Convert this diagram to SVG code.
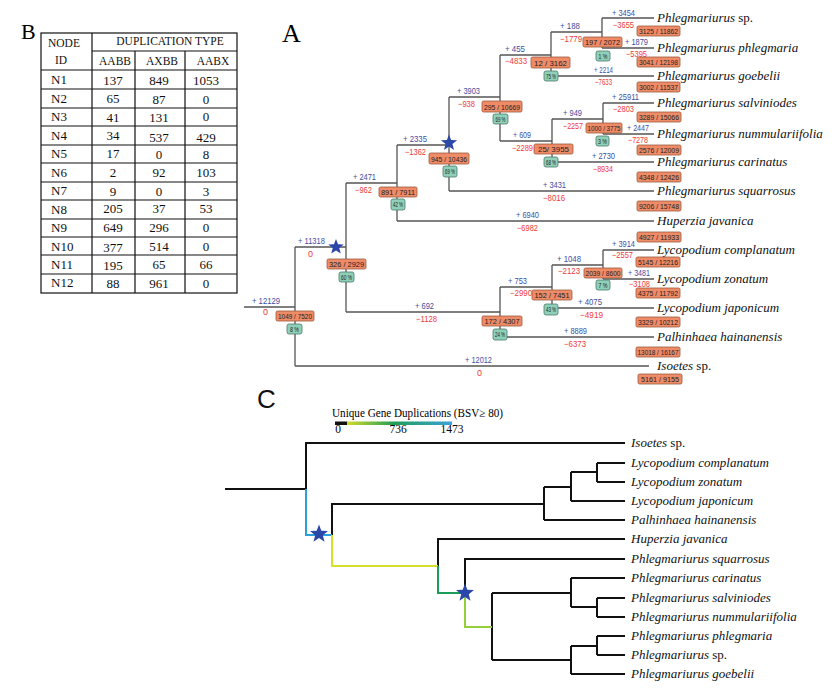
<svg xmlns="http://www.w3.org/2000/svg" xmlns:xlink="http://www.w3.org/1999/xlink" width="836" height="691" viewBox="0 0 836 691">
<style>
.lbl{font-family:"Liberation Serif","Times New Roman",serif;fill:#000}
.tb{font-family:"Liberation Serif","Times New Roman",serif;font-size:13px;fill:#111}
.th{font-family:"Liberation Serif","Times New Roman",serif;font-size:11.5px;fill:#111}
.b{font-family:"Liberation Sans",Arial,sans-serif;font-size:9px;fill:#3f4ea3}
.r{font-family:"Liberation Sans",Arial,sans-serif;font-size:9px;fill:#f03a3a}
.bx{fill:#f08b68;stroke:#9a5a3c;stroke-width:0.8}
.gx{fill:#8fd0b9;stroke:#4d7a68;stroke-width:0.8}
.bt{font-family:"Liberation Sans",Arial,sans-serif;font-size:8px;fill:#222;text-anchor:middle}
.gt{font-family:"Liberation Sans",Arial,sans-serif;font-size:7.5px;fill:#222;text-anchor:middle}
.sp{font-family:"Liberation Serif","Times New Roman",serif;font-size:13px;font-style:italic;fill:#111}
.up{font-style:normal}
.ta{stroke:#555;stroke-width:1.3;fill:none}
.tc{stroke:#111;stroke-width:2;fill:none}
.grid{stroke:#111;stroke-width:1.2;fill:none}
.star{fill:#2b47a8}
</style>
<defs>
<polygon id="star" points="0,-9 2.23,-3.07 8.56,-2.78 3.61,1.17 5.29,7.28 0,3.8 -5.29,7.28 -3.61,1.17 -8.56,-2.78 -2.23,-3.07"/>
<linearGradient id="cb" x1="0" x2="1" y1="0" y2="0">
<stop offset="0" stop-color="#d3dc2a"/>
<stop offset="0.45" stop-color="#1f9e55"/>
<stop offset="1" stop-color="#3aa3dc"/>
</linearGradient>
</defs>
<rect width="836" height="691" fill="#fff"/>

<!-- Panel labels -->
<text class="lbl" x="282" y="42" font-size="26">A</text>
<text class="lbl" x="21" y="39" font-size="22">B</text>
<text x="257" y="408" font-family="Liberation Sans,Arial,sans-serif" font-size="26" fill="#111">C</text>

<!-- Table B -->
<g id="table">
<rect class="grid" x="41" y="33" width="196" height="260" stroke-width="1.5"/>
<path class="grid" d="M92,33V293 M135,51V293 M185,51V293 M92,51H237 M41,70H237 M41,89H237 M41,108H237 M41,126H237 M41,145H237 M41,163H237 M41,182H237 M41,200H237 M41,219H237 M41,237H237 M41,255H237 M41,274H237"/>
<text class="th" x="48" y="47">NODE</text>
<text class="th" x="55" y="64">ID</text>
<text class="th" x="170" y="45" text-anchor="middle">DUPLICATION  TYPE</text>
<text class="th" x="115" y="65" text-anchor="middle">AABB</text>
<text class="th" x="162" y="65" text-anchor="middle">AXBB</text>
<text class="th" x="213" y="65" text-anchor="middle">AABX</text>
<g class="tb">
<text x="51" y="84">N1</text><text x="113" y="85" text-anchor="middle">137</text><text x="159" y="85" text-anchor="middle">849</text><text x="206" y="85" text-anchor="middle">1053</text>
<text x="51" y="103">N2</text><text x="113" y="103" text-anchor="middle">65</text><text x="159" y="104" text-anchor="middle">87</text><text x="206" y="104" text-anchor="middle">0</text>
<text x="51" y="121">N3</text><text x="113" y="122" text-anchor="middle">41</text><text x="159" y="122" text-anchor="middle">131</text><text x="206" y="121" text-anchor="middle">0</text>
<text x="51" y="140">N4</text><text x="113" y="140" text-anchor="middle">34</text><text x="159" y="142" text-anchor="middle">537</text><text x="206" y="142" text-anchor="middle">429</text>
<text x="51" y="158">N5</text><text x="113" y="158" text-anchor="middle">17</text><text x="159" y="159" text-anchor="middle">0</text><text x="206" y="159" text-anchor="middle">8</text>
<text x="51" y="177">N6</text><text x="113" y="177" text-anchor="middle">2</text><text x="159" y="177" text-anchor="middle">92</text><text x="206" y="177" text-anchor="middle">103</text>
<text x="51" y="195">N7</text><text x="113" y="196" text-anchor="middle">9</text><text x="159" y="196" text-anchor="middle">0</text><text x="206" y="196" text-anchor="middle">3</text>
<text x="51" y="214">N8</text><text x="113" y="213" text-anchor="middle">205</text><text x="159" y="213" text-anchor="middle">37</text><text x="206" y="213" text-anchor="middle">53</text>
<text x="51" y="232">N9</text><text x="113" y="232" text-anchor="middle">649</text><text x="159" y="232" text-anchor="middle">296</text><text x="206" y="232" text-anchor="middle">0</text>
<text x="51" y="251">N10</text><text x="113" y="252" text-anchor="middle">377</text><text x="159" y="251" text-anchor="middle">514</text><text x="206" y="251" text-anchor="middle">0</text>
<text x="51" y="269">N11</text><text x="113" y="270" text-anchor="middle">195</text><text x="159" y="269" text-anchor="middle">65</text><text x="206" y="269" text-anchor="middle">66</text>
<text x="51" y="287">N12</text><text x="113" y="288" text-anchor="middle">88</text><text x="159" y="288" text-anchor="middle">961</text><text x="206" y="288" text-anchor="middle">0</text>
</g>
</g>

<!-- Panel A connectors -->
<g id="connectors-A">
<path class="ta" d="M244,307H295 M295,247V366 M295,247H346 M295,366H649 M346,183V312 M346,183H397 M346,312H500 M397,145V221 M397,145H449 M397,221H654 M449,97V191 M449,97H500 M449,191H654 M500,55V141 M500,55H551 M500,141H552 M551,32V76 M551,32H602 M551,76H654 M602,18V48 M602,18H654 M602,48H654 M552,119V162 M552,119H603 M552,162H654 M603,103V134 M603,103H654 M603,134H654 M500,287V337 M500,287H552 M500,337H654 M552,265V308 M552,265H603 M552,308H654 M603,250V279 M603,250H654 M603,279H654"/>
</g>

<!-- Panel A branch labels -->
<g id="branch-labels-A">
<text class="b" x="252" y="304" textLength="28" lengthAdjust="spacingAndGlyphs">+ 12129</text>
<text class="b" x="298" y="244" textLength="27" lengthAdjust="spacingAndGlyphs">+ 11318</text>
<text class="b" x="465" y="363" textLength="27" lengthAdjust="spacingAndGlyphs">+ 12012</text>
<text class="b" x="415" y="309" textLength="19" lengthAdjust="spacingAndGlyphs">+ 692</text>
<text class="b" x="353" y="180" textLength="23" lengthAdjust="spacingAndGlyphs">+ 2471</text>
<text class="b" x="516" y="218" textLength="23" lengthAdjust="spacingAndGlyphs">+ 6940</text>
<text class="b" x="403" y="142" textLength="24" lengthAdjust="spacingAndGlyphs">+ 2335</text>
<text class="b" x="543" y="188" textLength="23" lengthAdjust="spacingAndGlyphs">+ 3431</text>
<text class="b" x="457" y="94" textLength="23" lengthAdjust="spacingAndGlyphs">+ 3903</text>
<text class="b" x="505" y="52" textLength="20" lengthAdjust="spacingAndGlyphs">+ 455</text>
<text class="b" x="513" y="138" textLength="18" lengthAdjust="spacingAndGlyphs">+ 609</text>
<text class="b" x="560" y="29" textLength="20" lengthAdjust="spacingAndGlyphs">+ 188</text>
<text class="b" x="594" y="73" textLength="19" lengthAdjust="spacingAndGlyphs">+ 2214</text>
<text class="b" x="612" y="16" textLength="23" lengthAdjust="spacingAndGlyphs">+ 3454</text>
<text class="b" x="625" y="45" textLength="23" lengthAdjust="spacingAndGlyphs">+ 1879</text>
<text class="b" x="563" y="116" textLength="19" lengthAdjust="spacingAndGlyphs">+ 949</text>
<text class="b" x="612" y="100" textLength="27" lengthAdjust="spacingAndGlyphs">+ 25911</text>
<text class="b" x="627" y="131" textLength="22" lengthAdjust="spacingAndGlyphs">+ 2447</text>
<text class="b" x="592" y="159" textLength="23" lengthAdjust="spacingAndGlyphs">+ 2730</text>
<text class="b" x="508" y="284" textLength="19" lengthAdjust="spacingAndGlyphs">+ 753</text>
<text class="b" x="557" y="262" textLength="24" lengthAdjust="spacingAndGlyphs">+ 1048</text>
<text class="b" x="578" y="305" textLength="24" lengthAdjust="spacingAndGlyphs">+ 4075</text>
<text class="b" x="564" y="334" textLength="23" lengthAdjust="spacingAndGlyphs">+ 8889</text>
<text class="b" x="612" y="247" textLength="23" lengthAdjust="spacingAndGlyphs">+ 3914</text>
<text class="b" x="628" y="276" textLength="22" lengthAdjust="spacingAndGlyphs">+ 3481</text>
<text class="r" x="263" y="315">0</text>
<text class="r" x="308" y="257">0</text>
<text class="r" x="477" y="376">0</text>
<text class="r" x="416" y="322" textLength="21" lengthAdjust="spacingAndGlyphs">−1128</text>
<text class="r" x="355" y="193" textLength="17" lengthAdjust="spacingAndGlyphs">−962</text>
<text class="r" x="517" y="231" textLength="21" lengthAdjust="spacingAndGlyphs">−6982</text>
<text class="r" x="405" y="155" textLength="21" lengthAdjust="spacingAndGlyphs">−1362</text>
<text class="r" x="543" y="201" textLength="22" lengthAdjust="spacingAndGlyphs">−8016</text>
<text class="r" x="458" y="107" textLength="17" lengthAdjust="spacingAndGlyphs">−938</text>
<text class="r" x="505" y="64" textLength="22" lengthAdjust="spacingAndGlyphs">−4833</text>
<text class="r" x="512" y="151" textLength="21" lengthAdjust="spacingAndGlyphs">−2289</text>
<text class="r" x="560" y="42" textLength="22" lengthAdjust="spacingAndGlyphs">−1779</text>
<text class="r" x="595" y="85" textLength="17" lengthAdjust="spacingAndGlyphs">−7633</text>
<text class="r" x="613" y="28" textLength="21" lengthAdjust="spacingAndGlyphs">−3655</text>
<text class="r" x="626" y="57" textLength="21" lengthAdjust="spacingAndGlyphs">−5395</text>
<text class="r" x="563" y="129" textLength="20" lengthAdjust="spacingAndGlyphs">−2257</text>
<text class="r" x="613" y="112" textLength="21" lengthAdjust="spacingAndGlyphs">−2803</text>
<text class="r" x="628" y="143" textLength="20" lengthAdjust="spacingAndGlyphs">−7278</text>
<text class="r" x="593" y="172" textLength="20" lengthAdjust="spacingAndGlyphs">−8934</text>
<text class="r" x="510" y="296" textLength="22" lengthAdjust="spacingAndGlyphs">−2990</text>
<text class="r" x="558" y="274" textLength="22" lengthAdjust="spacingAndGlyphs">−2123</text>
<text class="r" x="580" y="318" textLength="23" lengthAdjust="spacingAndGlyphs">−4919</text>
<text class="r" x="564" y="347" textLength="22" lengthAdjust="spacingAndGlyphs">−6373</text>
<text class="r" x="612" y="258" textLength="21" lengthAdjust="spacingAndGlyphs">−2557</text>
<text class="r" x="629" y="287" textLength="21" lengthAdjust="spacingAndGlyphs">−3108</text>
</g>

<!-- Panel A internal nodes -->
<g id="nodeA-1049"><rect class="bx" x="276" y="311" width="38" height="10" rx="1.5"/><text class="bt" x="295" y="319" textLength="34" lengthAdjust="spacingAndGlyphs">1049 / 7520</text><rect class="gx" x="287" y="324" width="15" height="10" rx="2"/><text class="gt" x="294.5" y="331.8" textLength="9" lengthAdjust="spacingAndGlyphs">8 %</text></g>
<g id="nodeA-326"><rect class="bx" x="327" y="259" width="39" height="10" rx="1.5"/><text class="bt" x="346.5" y="267" textLength="35" lengthAdjust="spacingAndGlyphs">326 / 2929</text><rect class="gx" x="339" y="272" width="15" height="10" rx="2"/><text class="gt" x="346.5" y="279.8" textLength="11" lengthAdjust="spacingAndGlyphs">60 %</text></g>
<g id="nodeA-891"><rect class="bx" x="379" y="187" width="38" height="10" rx="1.5"/><text class="bt" x="398" y="195" textLength="34" lengthAdjust="spacingAndGlyphs">891 / 7911</text><rect class="gx" x="391" y="199" width="14" height="11" rx="2"/><text class="gt" x="398" y="207.3" textLength="10" lengthAdjust="spacingAndGlyphs">42 %</text></g>
<g id="nodeA-945"><rect class="bx" x="429" y="153" width="40" height="11" rx="1.5"/><text class="bt" x="449" y="161.5" textLength="36" lengthAdjust="spacingAndGlyphs">945 / 10436</text><rect class="gx" x="443" y="166" width="14" height="11" rx="2"/><text class="gt" x="450" y="174.3" textLength="10" lengthAdjust="spacingAndGlyphs">69 %</text></g>
<g id="nodeA-295"><rect class="bx" x="482" y="101" width="40" height="11" rx="1.5"/><text class="bt" x="502" y="109.5" textLength="36" lengthAdjust="spacingAndGlyphs">295 / 10669</text><rect class="gx" x="493" y="114" width="15" height="10" rx="2"/><text class="gt" x="500.5" y="121.8" textLength="10" lengthAdjust="spacingAndGlyphs">69 %</text></g>
<g id="nodeA-12"><rect class="bx" x="531" y="57" width="39" height="11" rx="1.5"/><text class="bt" x="550.5" y="65.5" textLength="33" lengthAdjust="spacingAndGlyphs">12 / 3162</text><rect class="gx" x="544" y="71" width="14" height="10" rx="2"/><text class="gt" x="551" y="78.8" textLength="10" lengthAdjust="spacingAndGlyphs">75 %</text></g>
<g id="nodeA-197"><rect class="bx" x="583" y="37" width="39" height="10" rx="1.5"/><text class="bt" x="602.5" y="45" textLength="35" lengthAdjust="spacingAndGlyphs">197 / 2072</text><rect class="gx" x="596" y="51" width="14" height="10" rx="2"/><text class="gt" x="603" y="58.8" textLength="9" lengthAdjust="spacingAndGlyphs">1 %</text></g>
<g id="nodeA-25"><rect class="bx" x="534" y="144" width="39" height="10" rx="1.5"/><text class="bt" x="553.5" y="152" textLength="31" lengthAdjust="spacingAndGlyphs">25/ 3955</text><rect class="gx" x="544" y="157" width="14" height="10" rx="2"/><text class="gt" x="551" y="164.8" textLength="10" lengthAdjust="spacingAndGlyphs">68 %</text></g>
<g id="nodeA-1000"><rect class="bx" x="586" y="123" width="36" height="10" rx="1.5"/><text class="bt" x="604" y="131" textLength="33" lengthAdjust="spacingAndGlyphs">1000 / 3775</text><rect class="gx" x="596" y="136" width="13" height="10" rx="2"/><text class="gt" x="602.5" y="143.8" textLength="9" lengthAdjust="spacingAndGlyphs">3 %</text></g>
<g id="nodeA-172"><rect class="bx" x="482" y="316" width="40" height="10" rx="1.5"/><text class="bt" x="502" y="324" textLength="35" lengthAdjust="spacingAndGlyphs">172 / 4307</text><rect class="gx" x="493" y="329" width="14" height="11" rx="2"/><text class="gt" x="500" y="337.3" textLength="10" lengthAdjust="spacingAndGlyphs">24 %</text></g>
<g id="nodeA-152"><rect class="bx" x="532" y="290" width="40" height="10" rx="1.5"/><text class="bt" x="552" y="298" textLength="35" lengthAdjust="spacingAndGlyphs">152 / 7451</text><rect class="gx" x="544" y="304" width="14" height="11" rx="2"/><text class="gt" x="551" y="312.3" textLength="10" lengthAdjust="spacingAndGlyphs">43 %</text></g>
<g id="nodeA-2039"><rect class="bx" x="584" y="268" width="38" height="10" rx="1.5" fill="#d08a6c"/><text class="bt" x="603" y="276" textLength="35" lengthAdjust="spacingAndGlyphs">2039 / 8600</text><rect class="gx" x="596" y="280" width="14" height="10" rx="2"/><text class="gt" x="603" y="287.8" textLength="9" lengthAdjust="spacingAndGlyphs">7 %</text></g>

<!-- Stars A -->
<use href="#star" class="star" transform="translate(336,247) scale(0.9)"/>
<use href="#star" class="star" transform="translate(449,143) scale(0.95)"/>

<!-- Panel A leaves -->
<g id="leafA-Psp"><text class="sp" x="657" y="22">Phlegmariurus<tspan class="up"> sp.</tspan></text><rect class="bx" x="637" y="26" width="43" height="10" rx="1.5"/><text class="bt" x="658.5" y="34" textLength="39" lengthAdjust="spacingAndGlyphs">3125 / 11862</text></g>
<g id="leafA-Pphl"><text class="sp" x="657" y="52">Phlegmariurus phlegmaria</text><rect class="bx" x="637" y="57" width="43" height="10" rx="1.5"/><text class="bt" x="658.5" y="65" textLength="39" lengthAdjust="spacingAndGlyphs">3041 / 12198</text></g>
<g id="leafA-Pgoe"><text class="sp" x="657" y="80">Phlegmariurus goebelii</text><rect class="bx" x="637" y="82" width="43" height="10" rx="1.5"/><text class="bt" x="658.5" y="90" textLength="39" lengthAdjust="spacingAndGlyphs">3002 / 11537</text></g>
<g id="leafA-Psal"><text class="sp" x="657" y="107">Phlegmariurus salviniodes</text><rect class="bx" x="637" y="112" width="44" height="10" rx="1.5"/><text class="bt" x="659" y="120" textLength="40" lengthAdjust="spacingAndGlyphs">3289 / 15066</text></g>
<g id="leafA-Pnum"><text class="sp" x="657" y="138">Phlegmariurus nummulariifolia</text><rect class="bx" x="637" y="145" width="44" height="10" rx="1.5"/><text class="bt" x="659" y="153" textLength="40" lengthAdjust="spacingAndGlyphs">2576 / 12009</text></g>
<g id="leafA-Pcar"><text class="sp" x="657" y="166">Phlegmariurus carinatus</text><rect class="bx" x="637" y="172" width="44" height="10" rx="1.5"/><text class="bt" x="659" y="180" textLength="40" lengthAdjust="spacingAndGlyphs">4348 / 12426</text></g>
<g id="leafA-Psqu"><text class="sp" x="657" y="195">Phlegmariurus squarrosus</text><rect class="bx" x="637" y="201" width="44" height="10" rx="1.5"/><text class="bt" x="659" y="209" textLength="40" lengthAdjust="spacingAndGlyphs">9206 / 15748</text></g>
<g id="leafA-Hjav"><text class="sp" x="657" y="225">Huperzia javanica</text><rect class="bx" x="637" y="232" width="44" height="10" rx="1.5"/><text class="bt" x="659" y="240" textLength="40" lengthAdjust="spacingAndGlyphs">4927 / 11933</text></g>
<g id="leafA-Lcom"><text class="sp" x="657" y="254">Lycopodium complanatum</text><rect class="bx" x="636" y="257" width="44" height="10" rx="1.5"/><text class="bt" x="658" y="265" textLength="40" lengthAdjust="spacingAndGlyphs">5145 / 12216</text></g>
<g id="leafA-Lzon"><text class="sp" x="657" y="283">Lycopodium zonatum</text><rect class="bx" x="636" y="288" width="44" height="10" rx="1.5"/><text class="bt" x="658" y="296" textLength="40" lengthAdjust="spacingAndGlyphs">4375 / 11792</text></g>
<g id="leafA-Ljap"><text class="sp" x="657" y="312">Lycopodium japonicum</text><rect class="bx" x="636" y="317" width="44" height="10" rx="1.5"/><text class="bt" x="658" y="325" textLength="40" lengthAdjust="spacingAndGlyphs">3329 / 10212</text></g>
<g id="leafA-Phai"><text class="sp" x="657" y="341">Palhinhaea hainanensis</text><rect class="bx" x="636" y="347" width="44" height="10" rx="1.5"/><text class="bt" x="658" y="355" textLength="41" lengthAdjust="spacingAndGlyphs">13018 / 16167</text></g>
<g id="leafA-Isp"><text class="sp" x="657" y="370">Isoetes<tspan class="up"> sp.</tspan></text><rect class="bx" x="638" y="374" width="44" height="10" rx="1.5"/><text class="bt" x="660" y="382" textLength="38" lengthAdjust="spacingAndGlyphs">5161 / 9155</text></g>

<!-- Panel C legend -->
<g id="legend">
<text class="lbl" x="332" y="417" font-size="12" textLength="171" lengthAdjust="spacingAndGlyphs">Unique Gene Duplications (BSV≥ 80)</text>
<rect x="347" y="421.5" width="105" height="3.5" fill="url(#cb)"/>
<rect x="335" y="421.5" width="12" height="3.5" fill="#111"/>
<text class="lbl" x="338" y="433" font-size="11.5" text-anchor="middle">0</text>
<text class="lbl" x="398" y="433" font-size="11.5" text-anchor="middle">736</text>
<text class="lbl" x="452" y="433" font-size="11.5" text-anchor="middle">1473</text>
</g>

<!-- Panel C connectors -->
<g id="connectors-C">
<path class="tc" d="M225,489H306 M306,489V443H625 M332,535V504H544 M544,487V520 M544,520H625 M544,487H571 M571,472V501 M571,501H625 M571,472H597 M597,463V482 M597,463H625 M597,482H625 M438,566V539H625 M465,593V559H625 M492,593V660 M492,593H571 M571,578V607 M571,578H625 M571,607H597 M597,598V617 M597,598H625 M597,617H625 M492,660H571 M571,646V674 M571,674H625 M571,646H597 M597,636V655 M597,636H625 M597,655H625"/>
<path d="M306,489V535H332" fill="none" stroke="#2c9fd9" stroke-width="2"/>
<path d="M332,535V566H438" fill="none" stroke="#d5e02c" stroke-width="2"/>
<path d="M438,566V593H465" fill="none" stroke="#1b9c58" stroke-width="2"/>
<path d="M465,593V627H492" fill="none" stroke="#93cf3a" stroke-width="2"/>
</g>
<use href="#star" class="star" transform="translate(319,534) scale(1.05)"/>
<use href="#star" class="star" transform="translate(465,593) scale(1.05)"/>

<!-- Panel C leaves -->
<g id="leavesC" class="sp">
<text id="leafC-Isp" x="631" y="447">Isoetes<tspan class="up"> sp.</tspan></text>
<text id="leafC-Lcom" x="631" y="467">Lycopodium complanatum</text>
<text id="leafC-Lzon" x="631" y="486">Lycopodium zonatum</text>
<text id="leafC-Ljap" x="631" y="505">Lycopodium japonicum</text>
<text id="leafC-Phai" x="631" y="524">Palhinhaea hainanensis</text>
<text id="leafC-Hjav" x="631" y="543">Huperzia javanica</text>
<text id="leafC-Psqu" x="631" y="563">Phlegmariurus squarrosus</text>
<text id="leafC-Pcar" x="631" y="582">Phlegmariurus carinatus</text>
<text id="leafC-Psal" x="631" y="602">Phlegmariurus salviniodes</text>
<text id="leafC-Pnum" x="631" y="621">Phlegmariurus nummulariifolia</text>
<text id="leafC-Pphl" x="631" y="640">Phlegmariurus phlegmaria</text>
<text id="leafC-Psp" x="631" y="659">Phlegmariurus<tspan class="up"> sp.</tspan></text>
<text id="leafC-Pgoe" x="631" y="678">Phlegmariurus goebelii</text>
</g>
</svg>
